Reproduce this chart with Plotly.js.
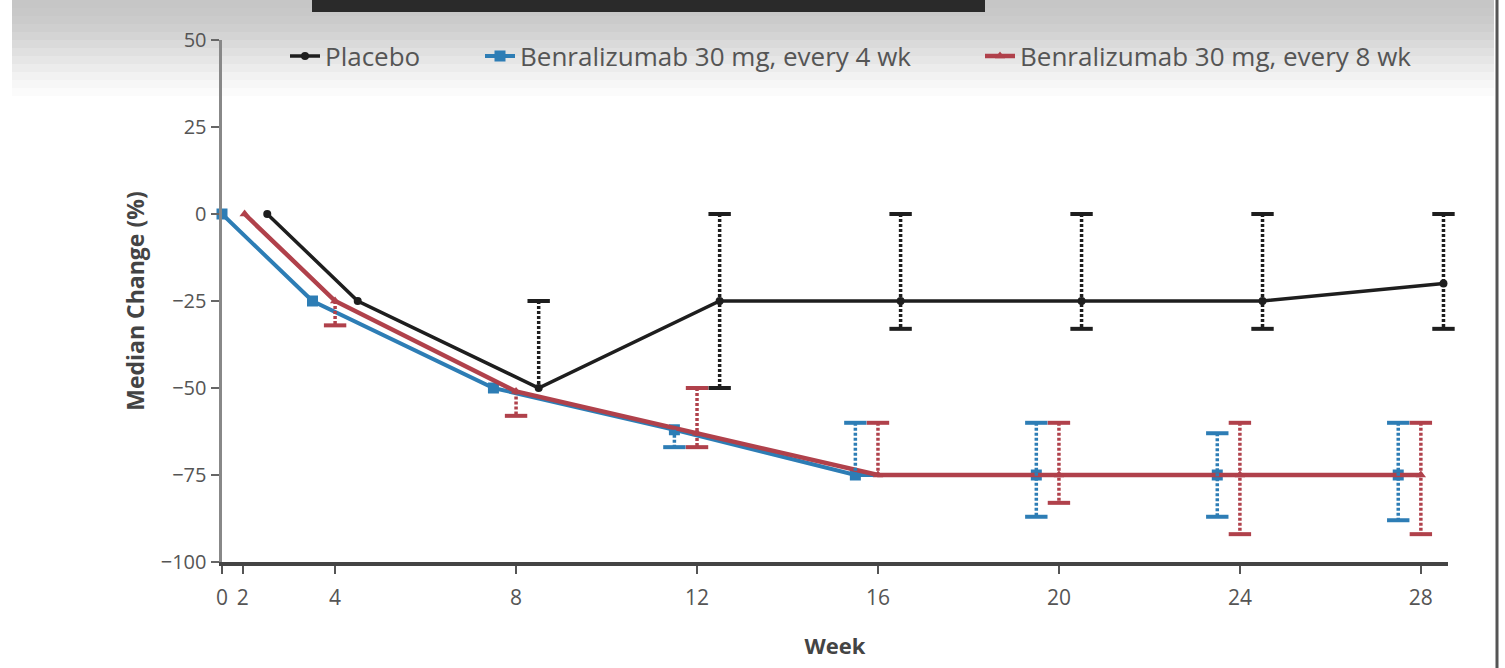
<!DOCTYPE html>
<html>
<head>
<meta charset="utf-8">
<script src="https://cdn.plot.ly/plotly-3.0.1.min.js"></script>
<style>
html,body{margin:0;padding:0;background:#fff;}
#chart{width:1505px;height:668px;}
</style>
</head>
<body>
<div id="chart"></div>
<script>
// ---- data ----
const seriesNames = ["Placebo", "Benralizumab 30 mg, every 4 wk", "Benralizumab 30 mg, every 8 wk"];

// x positions on the week axis (groups are staggered around each visit)
const placeboX = [2.5, 4.5, 8.5, 12.5, 16.5, 20.5, 24.5, 28.5];
const benra4X  = [1.5, 3.5, 7.5, 11.5, 15.5, 19.5, 23.5, 27.5];
const benra8X  = [2.0, 4.0, 8.0, 12.0, 16.0, 20.0, 24.0, 28.0];

// median change (%)
const placeboY = [0, -25, -50, -25, -25, -25, -25, -20];
const benra4Y  = [0, -25, -50, -62, -75, -75, -75, -75];
const benra8Y  = [0, -25, -51, -63, -75, -75, -75, -75];

// interquartile bounds (null = not shown)
const placeboHi = [null, null, -25, 0, 0, 0, 0, 0];
const placeboLo = [null, null, null, -50, -33, -33, -33, -33];
const benra4Hi  = [null, null, null, null, -60, -60, -63, -60];
const benra4Lo  = [null, null, null, -67, null, -87, -87, -88];
const benra8Hi  = [null, null, null, -50, -60, -60, -60, -60];
const benra8Lo  = [null, -32, -58, -67, null, -83, -92, -92];

// axis ticks
const xTickVals = [1.5, 1.96, 4, 8, 12, 16, 20, 24, 28];
const xTickText = ["0", "2", "4", "8", "12", "16", "20", "24", "28"];
const yTickVals = [50, 25, 0, -25, -50, -75, -100];

// ---- styling ----
const colors = ["#1e1e1e", "#2d7db5", "#b0414b"];
const symbols = ["circle", "square", "triangle-up"];
const markerSizes = [8, 11, 9];
const lineWidths = [3.5, 4, 4.5];
const FONT = "Open Sans, Noto Sans, sans-serif";

function mainTrace(i, x, y) {
  return {
    type: "scatter", mode: "lines+markers", name: seriesNames[i], x: x, y: y,
    legend: i === 0 ? "legend" : "legend" + (i + 1),
    line: {color: colors[i], width: lineWidths[i]},
    marker: {color: colors[i], symbol: symbols[i], size: markerSizes[i]},
    cliponaxis: false
  };
}

function barTraces(x, y, hi, lo, color) {
  const lx = [], ly = [], cx = [], cy = [];
  for (let i = 0; i < x.length; i++) {
    if (hi[i] === null && lo[i] === null) continue;
    const top = hi[i] !== null ? hi[i] : y[i];
    const bot = lo[i] !== null ? lo[i] : y[i];
    lx.push(x[i], x[i], null); ly.push(top, bot, null);
    if (hi[i] !== null) { cx.push(x[i]); cy.push(hi[i]); }
    if (lo[i] !== null) { cx.push(x[i]); cy.push(lo[i]); }
  }
  return [
    {type: "scatter", mode: "lines", x: lx, y: ly, showlegend: false, hoverinfo: "skip",
     line: {color: color, width: 3.5, dash: "3px,2px"}, cliponaxis: false},
    {type: "scatter", mode: "markers", x: cx, y: cy, showlegend: false, hoverinfo: "skip",
     marker: {symbol: "line-ew-open", size: 16, color: color, line: {color: color, width: 4}}, cliponaxis: false}
  ];
}

const data = [
  mainTrace(0, placeboX, placeboY),
  mainTrace(1, benra4X, benra4Y),
  mainTrace(2, benra8X, benra8Y),
  ...barTraces(placeboX, placeboY, placeboHi, placeboLo, colors[0]),
  ...barTraces(benra4X, benra4Y, benra4Hi, benra4Lo, colors[1]),
  ...barTraces(benra8X, benra8Y, benra8Hi, benra8Lo, colors[2])
];

// decoration of the scanned figure (grey gradient at top, dark strip, right border)
const W = 1505, H = 668, ML = 222, MR = 57, MT = 40, MB = 106;
const pw = W - ML - MR, ph = H - MT - MB;
const px2x = p => (p - ML) / pw;
const py2y = p => (H - MB - p) / ph;
const shapes = [];
const bandGreys = [198, 200, 203, 207, 212, 218, 224, 230, 236, 242, 247, 251];
bandGreys.forEach((g, i) => {
  shapes.push({type: "rect", xref: "paper", yref: "paper", layer: "below",
    x0: px2x(12), x1: px2x(1494), y0: py2y((i + 1) * 8), y1: py2y(i * 8),
    line: {width: 0}, fillcolor: `rgb(${g},${g},${g})`});
});
shapes.push({type: "rect", xref: "paper", yref: "paper", layer: "below",
  x0: px2x(312), x1: px2x(985), y0: py2y(12), y1: py2y(0),
  line: {width: 0}, fillcolor: "#2a2a2a"});
shapes.push({type: "line", xref: "paper", yref: "paper",
  x0: px2x(1497), x1: px2x(1497), y0: py2y(668), y1: py2y(0),
  line: {color: "#555", width: 3}});

const legendFont = {family: FONT, size: 26, color: "#555"};
function legendAt(px) {
  return {orientation: "h", x: px2x(px), xanchor: "left", y: py2y(56), yanchor: "middle",
    bgcolor: "rgba(0,0,0,0)", font: legendFont, itemwidth: 30, borderwidth: 0};
}

const layout = {
  width: W, height: H,
  margin: {l: ML, r: MR, t: MT, b: MB, pad: 0},
  paper_bgcolor: "#ffffff",
  plot_bgcolor: "rgba(0,0,0,0)",
  font: {family: FONT, color: "#555", size: 18},
  showlegend: true,
  legend: legendAt(285),
  legend2: legendAt(480),
  legend3: legendAt(980),
  xaxis: {
    range: [1.5, 28.6], tickmode: "array", tickvals: xTickVals, ticktext: xTickText,
    showline: true, linecolor: "#444", linewidth: 3.5, ticks: "outside", ticklen: 8,
    tickwidth: 2, tickcolor: "#555", showgrid: false, zeroline: false,
    ticklabelstandoff: 6,
    tickfont: {family: FONT, size: 21, color: "#555"},
    title: {text: "Week", font: {family: FONT, size: 22, color: "#444", weight: "bold"}, standoff: 30},
    automargin: false
  },
  yaxis: {
    range: [-100, 50], tickmode: "array", tickvals: yTickVals,
    showline: true, linecolor: "#888", linewidth: 3.5, ticks: "outside", ticklen: 8,
    tickwidth: 2, tickcolor: "#666", showgrid: false, zeroline: false,
    tickfont: {family: FONT, size: 20, color: "#555"},
    title: {text: "Median Change (%)", font: {family: FONT, size: 23, color: "#444", weight: "bold"}, standoff: 10},
    automargin: false
  },
  shapes: shapes
};

Plotly.newPlot("chart", data, layout, {displayModeBar: false, staticPlot: true});
</script>
</body>
</html>
